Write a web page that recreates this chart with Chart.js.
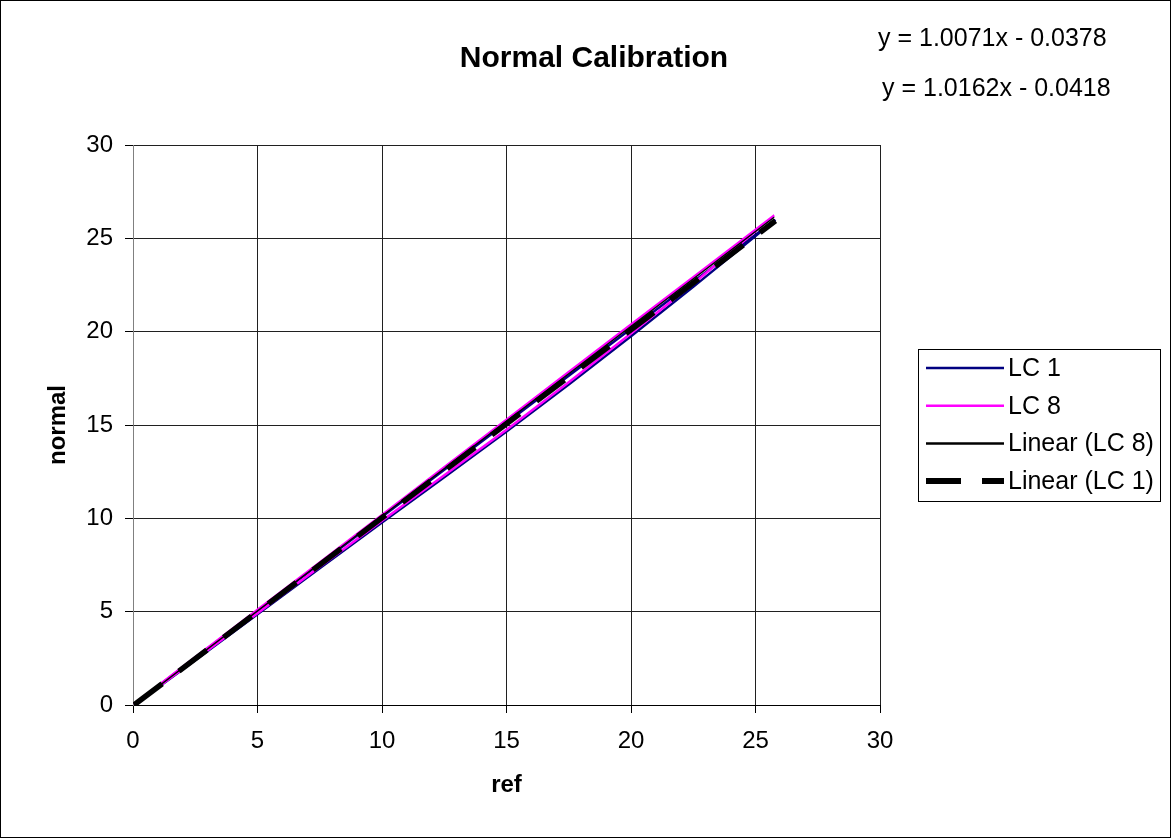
<!DOCTYPE html>
<html>
<head>
<meta charset="utf-8">
<title>Normal Calibration</title>
<script src="https://cdn.jsdelivr.net/npm/chart.js@4.4.0/dist/chart.umd.min.js"></script>
<style>
    html, body { margin: 0; padding: 0; background: #fff; }
    #chart { display: block; }
</style>
</head>
<body>
<canvas id="chart" width="1171" height="838"></canvas>
<script>
// ===================================
// DATA
// ===================================

// calibration sweeps go up and come back down, so each series is a loop
const lc1X = [0.05, 2.5, 5, 7.5, 10, 12.5, 15, 17.5, 20, 22.5, 25.8,
              22.5, 20, 17.5, 15, 12.5, 10, 7.5, 5, 2.5, 0.05];
const lc1Y = [0.01, 2.40, 4.86, 7.32, 9.78, 12.20, 14.65, 17.17, 19.75, 22.40, 25.99,
              22.67, 20.15, 17.64, 15.12, 12.6, 10.08, 7.57, 5.05, 2.53, 0.03];

const lc8X = [0.05, 2.5, 5, 7.5, 10, 12.5, 15, 17.5, 20, 22.5, 25.75,
              22.5, 20, 17.5, 15, 12.5, 10, 7.5, 5, 2.5, 0.05];
const lc8Y = [0.01, 2.44, 4.92, 7.40, 9.87, 12.31, 14.75, 17.29, 19.90, 22.57, 26.23,
              22.92, 20.38, 17.84, 15.28, 12.74, 10.18, 7.64, 5.1, 2.56, 0.05];

// trend line end points
const trendLC8X = [0.05, 25.75];
const trendLC8Y = [0.01, 26.13];
const trendLC1X = [0.05, 25.8];
const trendLC1Y = [0.01, 25.94];

const axisTicks = [0, 5, 10, 15, 20, 25, 30];

const chartTitle = 'Normal Calibration';
const equations = ['y = 1.0071x - 0.0378', 'y = 1.0162x - 0.0418'];

const FONT = '"Liberation Sans", Arial, Helvetica, sans-serif';

function toPoints(xs, ys) {
    return xs.map((x, i) => ({ x: x, y: ys[i] }));
}

// ===================================
// LEGEND / TEXT PLUGIN
// ===================================

const legendItems = [
    { label: 'LC 1', color: '#000080', width: 2.5, dash: [] },
    { label: 'LC 8', color: '#ff00ff', width: 2.5, dash: [] },
    { label: 'Linear (LC 8)', color: '#000000', width: 2.5, dash: [] },
    { label: 'Linear (LC 1)', color: '#000000', width: 6, dash: [35, 21] }
];

const decorPlugin = {
    id: 'decor',
    afterDraw(chart) {
        const ctx = chart.ctx;
        ctx.save();

        // outer frame
        ctx.strokeStyle = '#000';
        ctx.lineWidth = 1;
        ctx.strokeRect(0.5, 0.5, chart.width - 1, chart.height - 1);

        // title
        ctx.fillStyle = '#000';
        ctx.font = 'bold 30px ' + FONT;
        ctx.textAlign = 'center';
        ctx.textBaseline = 'middle';
        ctx.fillText(chartTitle, 594, 59);

        // trendline equations
        ctx.font = '25px ' + FONT;
        ctx.textAlign = 'left';
        ctx.fillText(equations[0], 878, 39);
        ctx.fillText(equations[1], 882, 89);

        // legend box
        const lx = 918, ly = 349, lw = 242, lh = 152;
        ctx.fillStyle = '#fff';
        ctx.fillRect(lx, ly, lw, lh);
        ctx.strokeStyle = '#000';
        ctx.lineWidth = 1;
        ctx.strokeRect(lx + 0.5, ly + 0.5, lw, lh);

        legendItems.forEach((item, i) => {
            const y = 368 + i * 37.7;
            ctx.beginPath();
            ctx.strokeStyle = item.color;
            ctx.lineWidth = item.width;
            ctx.setLineDash(item.dash);
            ctx.moveTo(926, y);
            ctx.lineTo(1004, y);
            ctx.stroke();
            ctx.setLineDash([]);
            ctx.fillStyle = '#000';
            ctx.font = '25px ' + FONT;
            ctx.fillText(item.label, 1008, y + 1);
        });

        ctx.restore();
    }
};

// ===================================
// CHART
// ===================================

const ctx = document.getElementById('chart');

new Chart(ctx, {
    type: 'scatter',
    data: {
        datasets: [
            {
                label: 'Linear (LC 1)',
                data: toPoints(trendLC1X, trendLC1Y),
                showLine: true,
                borderColor: '#000000',
                borderWidth: 5.5,
                borderDash: [35, 21],
                pointRadius: 0
            },
            {
                label: 'Linear (LC 8)',
                data: toPoints(trendLC8X, trendLC8Y),
                showLine: true,
                borderColor: '#000000',
                borderWidth: 1.5,
                pointRadius: 0
            },
            {
                label: 'LC 8',
                data: toPoints(lc8X, lc8Y),
                showLine: true,
                borderColor: '#ff00ff',
                borderWidth: 2.5,
                pointRadius: 0
            },
            {
                label: 'LC 1',
                data: toPoints(lc1X, lc1Y),
                showLine: true,
                borderColor: '#000080',
                borderWidth: 2.5,
                pointRadius: 0
            }
        ]
    },
    options: {
        responsive: false,
        animation: false,
        devicePixelRatio: 1,
        layout: {
            padding: { top: 145, right: 291, bottom: 0, left: 0 }
        },
        plugins: {
            legend: { display: false },
            title: { display: false },
            tooltip: { enabled: false }
        },
        scales: {
            x: {
                type: 'linear',
                min: 0,
                max: 30,
                afterFit: (scale) => { scale.height = 133; },
                afterBuildTicks: (scale) => { scale.ticks = axisTicks.map(v => ({ value: v })); },
                ticks: {
                    color: '#000',
                    padding: 14,
                    font: { family: FONT, size: 24 }
                },
                grid: {
                    color: '#202020',
                    lineWidth: 1,
                    tickLength: 8,
                    tickColor: '#000'
                },
                border: { color: '#000' },
                title: {
                    display: true,
                    text: 'ref',
                    color: '#000',
                    font: { family: FONT, size: 24, weight: 'bold' },
                    padding: { top: 0, bottom: 38 }
                }
            },
            y: {
                type: 'linear',
                min: 0,
                max: 30,
                afterFit: (scale) => { scale.width = 133; },
                afterBuildTicks: (scale) => { scale.ticks = axisTicks.map(v => ({ value: v })); },
                ticks: {
                    color: '#000',
                    padding: 12,
                    font: { family: FONT, size: 24 }
                },
                grid: {
                    color: '#202020',
                    lineWidth: 1,
                    tickLength: 8,
                    tickColor: '#000'
                },
                border: { color: '#808080' },
                title: {
                    display: true,
                    text: 'normal',
                    color: '#000',
                    font: { family: FONT, size: 24, weight: 'bold' },
                    padding: { top: 44, bottom: 0 }
                }
            }
        }
    },
    plugins: [decorPlugin]
});
</script>
</body>
</html>
